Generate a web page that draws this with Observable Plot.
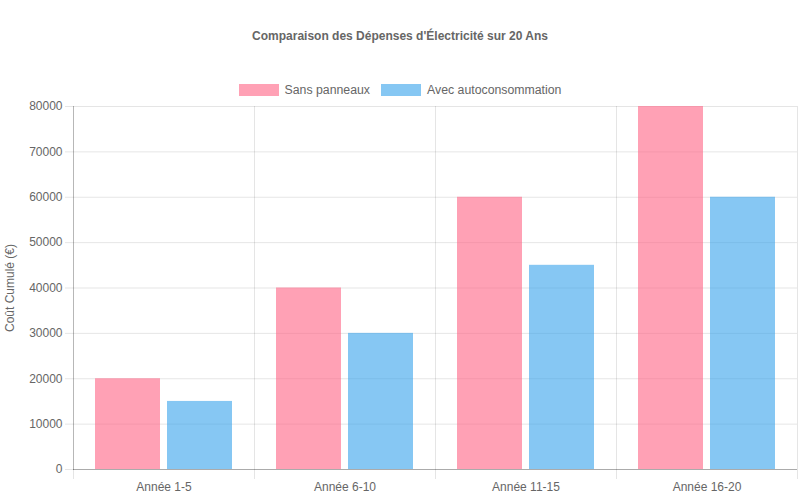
<!DOCTYPE html>
<html>
<head>
<meta charset="utf-8">
<script src="https://cdn.jsdelivr.net/npm/d3@7"></script>
<script src="https://cdn.jsdelivr.net/npm/@observablehq/plot@0.6"></script>
<style>
  html, body { margin: 0; padding: 0; background: #fff; }
  body { width: 800px; height: 500px; font-family: "Liberation Sans", Arial, Helvetica, sans-serif; color: #666; }
  #title { position: absolute; top: 29px; left: 0; width: 800px; text-align: center; font-weight: bold; font-size: 12px; color: #666; }
  #legend { position: absolute; top: 83px; left: 0; width: 800px; display: flex; justify-content: center; align-items: center; font-size: 12.3px; color: #666; }
  .item { display: flex; align-items: center; margin: 0 5.5px; }
  .sw { width: 40px; height: 12px; margin-right: 6px; }
  #chart { position: absolute; top: 100px; left: 0; }
</style>
</head>
<body>
<div id="title">Comparaison des Dépenses d'Électricité sur 20 Ans</div>
<div id="legend"></div>
<div id="chart"></div>
<script>
const categories = ["Année 1-5", "Année 6-10", "Année 11-15", "Année 16-20"];
const seriesNames = ["Sans panneaux", "Avec autoconsommation"];
const sansPanneaux = [20000, 40000, 60000, 80000];
const avecAutoconsommation = [15000, 30000, 45000, 60000];
const seriesColors = ["rgb(255,99,132)", "rgb(54,162,235)"];
const yTicks = [0, 10000, 20000, 30000, 40000, 50000, 60000, 70000, 80000];

const data = [];
categories.forEach((c, i) => {
  data.push({cat: c, series: seriesNames[0], value: sansPanneaux[i]});
  data.push({cat: c, series: seriesNames[1], value: avecAutoconsommation[i]});
});

// legend
const legend = document.getElementById("legend");
seriesNames.forEach((s, i) => {
  const it = document.createElement("div");
  it.className = "item";
  const sw = document.createElement("div");
  sw.className = "sw";
  sw.style.background = seriesColors[i];
  sw.style.opacity = 0.6;
  const t = document.createElement("span");
  t.textContent = s;
  it.appendChild(sw); it.appendChild(t);
  legend.appendChild(it);
});

const lastCat = categories[categories.length - 1];
const plot = Plot.plot({
  width: 800,
  height: 400,
  marginTop: 6,
  marginBottom: 31,
  marginLeft: 73,
  marginRight: 3,
  style: {fontFamily: "'Liberation Sans', Arial, Helvetica, sans-serif", fontSize: "12px", color: "#666", background: "transparent"},
  fx: {domain: categories, padding: 0},
  x: {domain: seriesNames, paddingInner: 0.1, paddingOuter: 0.3, axis: null},
  y: {domain: [0, 80000]},
  color: {domain: seriesNames, range: seriesColors},
  marks: [
    Plot.gridY(yTicks, {stroke: "#000", strokeOpacity: 0.1}),
    Plot.frame({anchor: "left", stroke: "#000", strokeOpacity: 0.1, insetBottom: -9}),
    Plot.frame({anchor: "right", stroke: "#000", strokeOpacity: 0.1, insetBottom: -9, fx: () => lastCat}),
    Plot.barY(data, {fx: "cat", x: "series", y: "value", fill: "series", fillOpacity: 0.6}),
    Plot.ruleY([0], {stroke: "#000", strokeOpacity: 0.25}),
    Plot.frame({anchor: "left", stroke: "#000", strokeOpacity: 0.2, fx: () => categories[0]}),
    Plot.axisY(yTicks, {tickSize: 8, tickPadding: 3, stroke: "#000", strokeOpacity: 0.1, fill: "#666", tickFormat: d => String(d),
      label: "Coût Cumulé (€)", labelAnchor: "center", labelArrow: "none", labelOffset: 68}),
    Plot.axisFx({anchor: "bottom", tickSize: 0, tickPadding: 13, label: null, fill: "#666"})
  ]
});
document.getElementById("chart").appendChild(plot);
</script>
</body>
</html>
